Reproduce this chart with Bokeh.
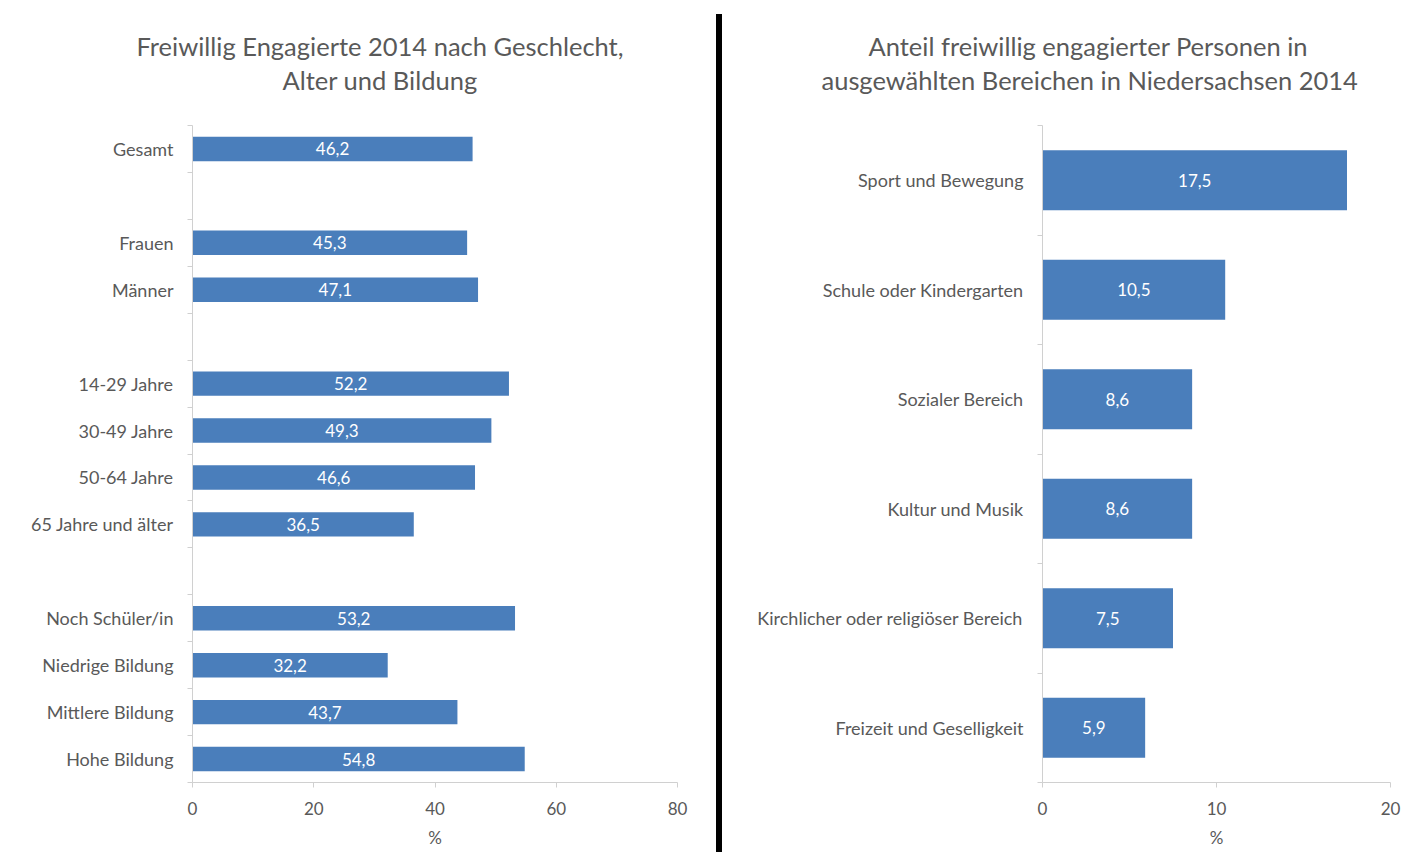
from bokeh.plotting import figure
from bokeh.models import Range1d, FixedTicker, Title, ColumnDataSource, Div
from bokeh.layouts import row
from bokeh.core.properties import value
from bokeh.embed import file_html
from bokeh.resources import INLINE

# ---------------- data ----------------
left_title_1 = "Freiwillig Engagierte 2014 nach Geschlecht,"
left_title_2 = "Alter und Bildung"
left_categories = ["Gesamt",
                   "Frauen", "Männer",
                   "14-29 Jahre", "30-49 Jahre", "50-64 Jahre", "65 Jahre und älter",
                   "Noch Schüler/in", "Niedrige Bildung", "Mittlere Bildung", "Hohe Bildung"]
left_values = [46.2, 45.3, 47.1, 52.2, 49.3, 46.6, 36.5, 53.2, 32.2, 43.7, 54.8]
left_group_sizes = [1, 2, 4, 4]
left_xticks = [0, 20, 40, 60, 80]

right_title_1 = "Anteil freiwillig engagierter Personen in"
right_title_2 = "ausgewählten Bereichen in Niedersachsen 2014"
right_categories = ["Sport und Bewegung", "Schule oder Kindergarten", "Sozialer Bereich",
                    "Kultur und Musik", "Kirchlicher oder religiöser Bereich",
                    "Freizeit und Geselligkeit"]
right_values = [17.5, 10.5, 8.6, 8.6, 7.5, 5.9]
right_group_sizes = [6]
right_xticks = [0, 10, 20]

x_label = "%"

# ---------------- style ----------------
FONT = "Lato"
TXT = "#595959"
AXIS = "#d0d0d0"
BAR = "#4a7ebb"
H = 852


def slot_positions(group_sizes):
    pos, i = [], 0
    for g, n in enumerate(group_sizes):
        for _ in range(n):
            pos.append(i + 0.5)
            i += 1
        if g < len(group_sizes) - 1:
            i += 1
    return pos, i


def make_panel(title1, title2, off1, off2, cats, vals, group_sizes, xticks, width,
               border_left, border_right, bar_height):
    ypos, nslots = slot_positions(group_sizes)
    p = figure(width=width, height=H, output_backend="svg", toolbar_location=None,
               x_range=Range1d(xticks[0], xticks[-1]), y_range=Range1d(nslots, 0),
               min_border_left=border_left, min_border_right=border_right,
               min_border_top=125, min_border_bottom=H - 782)
    p.title = None
    # spacer between frame and title lines
    p.add_layout(Title(text=" ", text_font_size="1px", standoff=28), "above")
    p.add_layout(Title(text=title2, align="left", offset=off2, text_font=FONT,
                       text_font_size="25.5px", text_color=TXT,
                       text_font_style="normal", standoff=0), "above")
    p.add_layout(Title(text=title1, align="left", offset=off1, text_font=FONT,
                       text_font_size="25.5px", text_color=TXT,
                       text_font_style="normal", standoff=4), "above")
    p.outline_line_color = None
    p.xgrid.grid_line_color = None
    p.ygrid.grid_line_color = None
    p.background_fill_color = "white"
    p.border_fill_color = "white"

    src = ColumnDataSource(dict(
        y=ypos, v=vals, mid=[v / 2 for v in vals],
        lab=[f"{v:.1f}".replace(".", ",") for v in vals]))
    p.hbar(y="y", right="v", left=0, height=bar_height, source=src,
           fill_color=BAR, line_color=None)
    p.text(x="mid", y="y", text="lab", source=src, text_color="white",
           text_font=value(FONT), text_font_size="17px",
           text_align="center", text_baseline="middle")

    # x axis
    xa = p.xaxis[0]
    xa.ticker = FixedTicker(ticks=xticks)
    xa.axis_line_color = AXIS
    xa.major_tick_line_color = AXIS
    xa.major_tick_out = 5
    xa.major_tick_in = 0
    xa.minor_tick_line_color = None
    xa.major_label_text_font = FONT
    xa.major_label_text_font_size = "17px"
    xa.major_label_text_color = TXT
    xa.major_label_standoff = 14
    xa.axis_label = x_label
    xa.axis_label_text_font = FONT
    xa.axis_label_text_font_size = "17px"
    xa.axis_label_text_font_style = "normal"
    xa.axis_label_text_color = TXT
    xa.axis_label_standoff = 9

    # y axis
    ya = p.yaxis[0]
    ya.ticker = FixedTicker(ticks=ypos, minor_ticks=list(range(nslots + 1)))
    ya.major_label_overrides = {y: c for y, c in zip(ypos, cats)}
    ya.axis_line_color = AXIS
    ya.major_tick_line_color = None
    ya.major_tick_out = 0
    ya.major_tick_in = 0
    ya.minor_tick_line_color = AXIS
    ya.minor_tick_out = 5
    ya.minor_tick_in = 0
    ya.major_label_text_font = FONT
    ya.major_label_text_font_size = "18px"
    ya.major_label_text_color = TXT
    ya.major_label_standoff = 14
    return p


left = make_panel(left_title_1, left_title_2, -56, 90, left_categories, left_values,
                  left_group_sizes, left_xticks, 716, 192, 39, 0.52)
right = make_panel(right_title_1, right_title_2, -174, -221, right_categories, right_values,
                   right_group_sizes, right_xticks, 700, 320, 32, 0.55)

divider = Div(text="", width=6, height=H - 14, margin=(14, 0, 0, 0),
              styles={"background-color": "black"})

layout = row(left, divider, right)
open("out.html", "w").write(file_html(layout, INLINE))
